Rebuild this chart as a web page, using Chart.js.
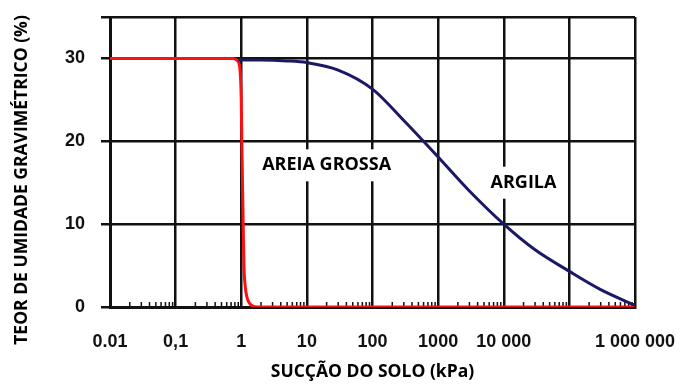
<!DOCTYPE html>
<html>
<head>
<meta charset="utf-8">
<script src="https://cdn.jsdelivr.net/npm/chart.js@4.4.1/dist/chart.umd.min.js"></script>
<style>
  body { margin: 0; background: #fff; }
</style>
</head>
<body>
<canvas id="chart" width="693" height="392"></canvas>
<script>
// Decades on the suction axis and their printed labels
const decades = [0.01, 0.1, 1, 10, 100, 1000, 10000, 100000, 1000000]
const decadeLabels = ["0.01", "0,1", "1", "10", "100", "1000", "10 000", "", "1 000 000"]
const moistureTicks = [0, 10, 20, 30, 35]

// Coarse sand (red)
const sandSuction = [0.01, 0.75, 0.88, 0.96, 1.0, 1.02, 1.07, 1.1, 1.15, 1.22, 1.32, 1.5, 1.8, 1000000]
const sandMoisture = [30, 30, 29.7, 28.5, 25, 20, 10, 5, 2.5, 1.2, 0.5, 0.1, 0, 0]

// Clay (navy)
const claySuction = [0.9, 2, 5, 10, 30, 100, 300, 1000, 3000, 10000, 30000, 100000, 300000, 1000000]
const clayMoisture = [29.8, 29.8, 29.7, 29.5, 28.6, 26.3, 22.5, 18.1, 14, 10, 6.9, 4.3, 2.1, 0.2]

const curveLabels = [
  { text: "AREIA GROSSA", x: 20, y: 17.1 },
  { text: "ARGILA", x: 20000, y: 15 },
]
const yTitle = "TEOR DE UMIDADE GRAVIMÉTRICO (%)"

const tickFont = { family: "'Liberation Sans', Arial, sans-serif", size: 18, weight: "bold" }
const titleFont = { family: "'Open Sans', sans-serif", size: 17.5, weight: "bold" }

function toPoints(xs, ys) {
  return xs.map((x, i) => ({ x: x, y: ys[i] }))
}

// keep the plot frame where the picture has it, whatever the label sizes
function fixBox(size) {
  return (scale) => {
    if (scale.isHorizontal()) scale.height = size
    else scale.width = size
    scale.paddingTop = 0
    scale.paddingBottom = 0
    scale.paddingLeft = 0
    scale.paddingRight = 0
  }
}

// small log ticks along the bottom, white-boxed curve labels, y title
const extras = {
  id: "extras",
  beforeDatasetsDraw(chart) {
    const { ctx, chartArea, scales } = chart
    const x = scales.x
    ctx.save()
    ctx.fillStyle = "#111"
    decades.slice(0, -1).forEach((d) => {
      for (let m = 2; m <= 9; m++) {
        const px = x.getPixelForValue(d * m)
        ctx.fillRect(px - 0.75, chartArea.bottom - 5, 1.5, 5)
      }
    })
    ctx.font = "bold 18px 'Open Sans', sans-serif"
    ctx.textAlign = "center"
    ctx.textBaseline = "middle"
    curveLabels.forEach((l) => {
      const px = x.getPixelForValue(l.x)
      const py = scales.y.getPixelForValue(l.y)
      const w = ctx.measureText(l.text).width
      ctx.fillStyle = "#fff"
      ctx.fillRect(px - w / 2 - 6, py - 16, w + 12, 32)
      ctx.fillStyle = "#000"
      ctx.fillText(l.text, px, py)
    })
    ctx.restore()
  },
  afterDraw(chart) {
    // the y title sits lower than the plot centre in the original
    const { ctx } = chart
    ctx.save()
    ctx.translate(22, 180)
    ctx.rotate(-Math.PI / 2)
    ctx.font = "bold 17.5px 'Open Sans', sans-serif"
    ctx.fillStyle = "#000"
    ctx.textAlign = "center"
    ctx.textBaseline = "middle"
    ctx.fillText(yTitle, 0, 0)
    ctx.restore()
  },
}

const chart = new Chart(document.getElementById("chart"), {
  type: "line",
  data: {
    datasets: [
      {
        label: "Argila",
        data: toPoints(claySuction, clayMoisture),
        borderColor: "#1b1866",
        borderWidth: 3,
        pointRadius: 0,
        cubicInterpolationMode: "monotone",
      },
      {
        label: "Areia grossa",
        data: toPoints(sandSuction, sandMoisture),
        borderColor: "#ff1010",
        borderWidth: 3,
        pointRadius: 0,
        cubicInterpolationMode: "monotone",
      },
    ],
  },
  options: {
    responsive: false,
    animation: false,
    devicePixelRatio: 1,
    layout: { padding: { left: 4, right: 58, top: 17, bottom: 6 } },
    plugins: { legend: { display: false }, tooltip: { enabled: false } },
    scales: {
      x: {
        type: "logarithmic",
        min: 0.01,
        max: 1000000,
        afterBuildTicks: (scale) => {
          scale.ticks = decades.map((v) => ({ value: v }))
        },
        afterFit: fixBox(79),
        ticks: {
          autoSkip: false,
          maxRotation: 0,
          padding: 24,
          color: "#111",
          font: tickFont,
          callback: (v) => {
            const i = decades.findIndex((d) => Math.abs(d - v) / d < 1e-6)
            return i >= 0 ? decadeLabels[i] : ""
          },
        },
        grid: { color: "#111", lineWidth: 2.5, drawTicks: false },
        border: { color: "#111", width: 3 },
        title: {
          display: true,
          text: "SUCÇÃO DO SOLO (kPa)",
          color: "#000",
          font: titleFont,
          padding: { top: 0, bottom: 3.5 },
        },
      },
      y: {
        min: 0,
        max: 35,
        afterBuildTicks: (scale) => {
          scale.ticks = moistureTicks.map((v) => ({ value: v }))
        },
        afterFit: fixBox(106),
        ticks: {
          padding: 16,
          color: "#111",
          font: tickFont,
          callback: (v) => (v === 35 ? "" : v),
        },
        grid: { color: "#111", lineWidth: 2.5, tickLength: 9 },
        border: { color: "#111", width: 3 },
        title: { display: false },
      },
    },
  },
  plugins: [extras],
})
</script>
</body>
</html>
